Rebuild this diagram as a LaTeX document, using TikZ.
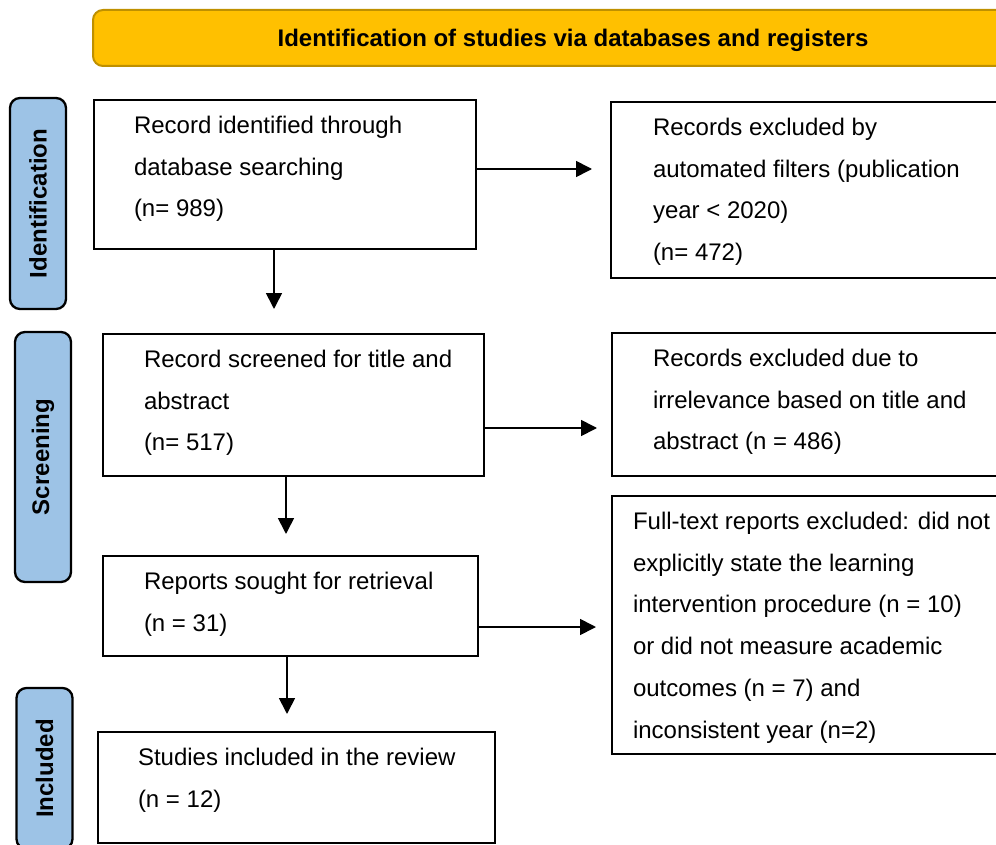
\documentclass[tikz,border=0pt]{standalone}
\usepackage{fontspec}
\setmainfont{Liberation Sans}
\usepackage{xcolor}
\usepackage{tikz}
\usetikzlibrary{arrows.meta}
\tikzset{>={Triangle[length=16pt,width=16pt]}}
\definecolor{bannergold}{HTML}{FFC000}
\definecolor{bannerline}{HTML}{BF9000}
\definecolor{stageblue}{HTML}{9DC3E6}
\tikzstyle{banner}=[draw=bannerline,line width=2pt,fill=bannergold,rounded corners=10pt,minimum height=56pt,text height=17.5pt,text depth=0pt,font=\bfseries\fontsize{24}{28}\selectfont]
\tikzstyle{stage}=[draw=black,line width=2.3pt,fill=stageblue,rounded corners=10pt,rotate=90,minimum height=56pt,font=\bfseries\fontsize{24}{28}\selectfont]
\tikzstyle{flowbox}=[draw=black,line width=2pt,inner sep=0pt,anchor=north west]
\tikzstyle{flow}=[->,line width=1.7pt]
% box text: [indent]{width}{height}{lines}
\newcommand{\flowtext}[4][40]{\parbox[c][#3pt][t]{#2pt}{\raggedright\leftskip=#1pt\relax\rule{0pt}{33.5pt}#4}}

\begin{document}
\begin{tikzpicture}[x=1pt,y=-1pt,font=\fontsize{24}{41.7}\selectfont]
	\useasboundingbox (0,0) rectangle (996,845);
	\clip (0,0) rectangle (996,845);
	% header and stages
	\node[banner,minimum width=960pt] (head) at (573,38) {Identification of studies via databases and registers};
	\node[stage,minimum width=211pt] (sident) at (38,203.5) {Identification};
	\node[stage,minimum width=250pt] (sscreen) at (43,457) {Screening};
	\node[stage,minimum width=161pt] (sincl) at (44.5,768.5) {Included};
	% boxes
	\node[flowbox] (ident) at (93,99) {\flowtext{382}{149}{Record identified through\\database searching\\(n= 989)}};
	\node[flowbox] (filt) at (610,101) {\flowtext[42]{450}{176}{Records excluded by\\automated filters (publication\\year < 2020)\\(n= 472)}};
	\node[flowbox] (screen) at (102,333) {\flowtext[41]{381}{142}{Record screened for title and\\abstract\\(n= 517)}};
	\node[flowbox] (irrel) at (611,332) {\flowtext[41]{450}{143}{Records excluded due to\\irrelevance based on title and\\abstract (n = 486)}};
	\node[flowbox] (sought) at (102,555) {\flowtext[41]{375}{100}{Reports sought for retrieval\\(n = 31)}};
	\node[flowbox] (fulltext) at (611,495) {\flowtext[21]{450}{258}{Full-text reports excluded: did not\\explicitly state the learning\\intervention procedure (n = 10)\\or did not measure academic\\outcomes (n = 7) and\\inconsistent year (n=2)}};
	\node[flowbox] (incl) at (97,731) {\flowtext{397}{111}{Studies included in the review\\(n = 12)}};
	% arrow ends
	\coordinate (r1) at (592,169);
	\coordinate (r2) at (597,428);
	\coordinate (r3) at (596,627);
	\coordinate (d1) at (274,309);
	\coordinate (d2) at (286,534);
	\coordinate (d3) at (287,714);
	\draw[flow] (ident.east |- r1) -- (r1);
	\draw[flow] (screen.east |- r2) -- (r2);
	\draw[flow] (sought.east |- r3) -- (r3);
	\draw[flow] (ident.south -| d1) -- (d1);
	\draw[flow] (screen.south -| d2) -- (d2);
	\draw[flow] (sought.south -| d3) -- (d3);
\end{tikzpicture}
\end{document}
